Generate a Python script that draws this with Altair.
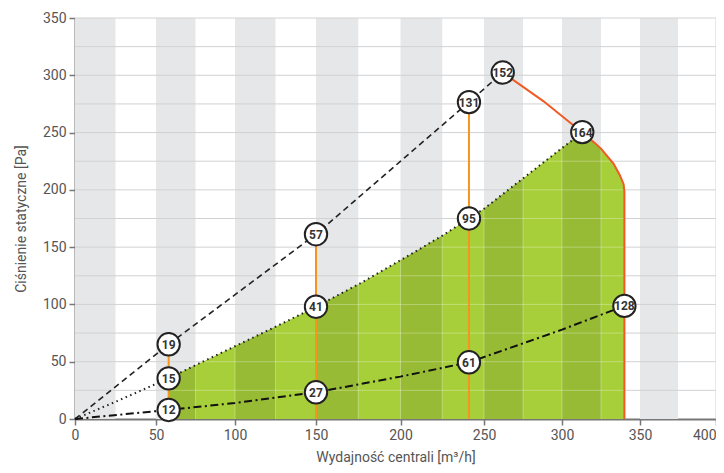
import altair as alt
import pandas as pd
import numpy as np

# ---- axis ticks / grid ----
x_ticks = [0, 50, 100, 150, 200, 250, 300, 350, 400]
# pixel offsets of the x ticks as they appear in the reference (its axis is slightly uneven)
x_tick_px = [0, 81, 160, 241, 325.5, 409, 487, 565, 641]
y_ticks = [0, 50, 100, 150, 200, 250, 300, 350]
grid_y = [25, 50, 75, 100, 125, 150, 175, 200, 225, 250, 275, 300, 325, 350]
band_starts = [0, 50, 100, 150, 200, 250, 300, 350]
band_w = 25
y_top = 350

# ---- curves ----
dash_x = [0, 58, 150, 241, 262]
dash_y = [0, 65.2, 161.3, 276.6, 302.4]

dot_x = [0, 25, 58, 75, 100, 125, 150, 175, 200, 225, 241, 250, 275, 300, 313]
dot_y = [0, 15, 35.5, 47, 63.5, 80.5, 98, 117.5, 138.5, 160, 175, 183.5, 210, 236.5, 250]

dd_x = [0, 58, 100, 150, 200, 241, 275, 300, 340]
dd_y = [0, 7.9, 14, 23.3, 37, 49.5, 66, 78, 98.7]

max_x = [262, 288, 313, 321, 325, 333, 337, 339.5, 340, 340]
max_y = [302.4, 277.5, 250, 241, 236, 223, 213, 205, 198, 0]

vert_x = [58, 150, 241]
vert_y = [65.2, 161.3, 276.6]

lab_x = [58, 58, 58, 150, 150, 150, 241, 241, 241, 262, 313, 340]
lab_y = [65.2, 35.5, 7.9, 161.3, 98, 23.3, 276.6, 175, 49.5, 302.4, 250.4, 98.7]
lab_t = ["19", "15", "12", "57", "41", "27", "131", "95", "61", "152", "164", "128"]

fill_start = 58
fill_end = 340

# ---- derived tables ----
bx = [x for x in dot_x if x >= fill_start] + max_x[3:-1]
by = [y for x, y in zip(dot_x, dot_y) if x >= fill_start] + max_y[3:-1]
boundary = pd.DataFrame({"x": bx, "y": by, "y0": 0})

dark_rows = []
for i, s in enumerate(band_starts):
    lo, hi = max(s, fill_start), min(s + band_w, fill_end)
    if lo >= hi:
        continue
    for x, y in zip(bx, by):
        if lo <= x <= hi:
            dark_rows.append({"band": i, "x": x, "y": y, "y0": 0})
dark = pd.DataFrame(dark_rows)

vlines = pd.DataFrame([{"x": x, "y": 0, "y2": y} for x, y in zip(bx, by)
                       if x % 25 == 0 and fill_start < x < fill_end])
asc_x = [x for x in dot_x if x >= fill_start]
asc_y = [y for x, y in zip(dot_x, dot_y) if x >= fill_start]
desc_x = max_x[2:-1][::-1]
desc_y = max_y[2:-1][::-1]
hrows = []
for h in grid_y:
    if h >= max(by):
        continue
    xl = fill_start if h <= asc_y[0] else float(np.interp(h, asc_y, asc_x))
    xr = fill_end if h <= desc_y[0] else float(np.interp(h, desc_y, desc_x))
    hrows.append({"x": xl, "x2": xr, "y": h})
hlines = pd.DataFrame(hrows)

bands = pd.DataFrame({"x": band_starts, "x2": [s + band_w for s in band_starts],
                      "y": 0, "y2": y_top})
grid = pd.DataFrame({"y": grid_y})
rightline = pd.DataFrame({"x": [x_ticks[-1]], "y": [0], "y2": [y_top]})

dash_df = pd.DataFrame({"x": dash_x, "y": dash_y})
dot_df = pd.DataFrame({"x": dot_x, "y": dot_y})
dd_df = pd.DataFrame({"x": dd_x, "y": dd_y})
max_df = pd.DataFrame({"x": max_x, "y": max_y, "i": range(len(max_x))})
vert_df = pd.DataFrame({"x": vert_x, "y": 0, "y2": vert_y})
lab_df = pd.DataFrame({"x": lab_x, "y": lab_y, "t": lab_t})

# ---- scales / axes ----
FONT = "Roboto"
xs = alt.Scale(domain=x_ticks, range=x_tick_px, nice=False, zero=False)
ys = alt.Scale(domain=[0, 350], nice=False)
x_axis = alt.Axis(values=x_ticks, title="Wydajność centrali [m³/h]", grid=False,
                  tickSize=6, tickColor="#777", tickWidth=1.5,
                  domainColor="#777", domainWidth=2, labelFlush=False,
                  labelAlign={"condition": {"test": "datum.value >= 400", "value": "right"},
                              "value": "center"},
                  labelFont=FONT, labelFontSize=14, labelColor="#555", labelPadding=3,
                  titleFont=FONT, titleFontSize=14, titleFontWeight="normal",
                  titleColor="#555", titlePadding=8)
y_axis = alt.Axis(values=y_ticks, title="Ciśnienie statyczne [Pa]", grid=False,
                  tickSize=6, tickColor="#777", tickWidth=1.5,
                  domainColor="#777", domainWidth=2,
                  labelFont=FONT, labelFontSize=14, labelColor="#555", labelPadding=3,
                  titleFont=FONT, titleFontSize=14, titleFontWeight="normal",
                  titleColor="#555", titlePadding=14)


def X(f="x"):
    return alt.X(f"{f}:Q", scale=xs, axis=x_axis)


def Y(f="y"):
    return alt.Y(f"{f}:Q", scale=ys, axis=y_axis)


band_layer = alt.Chart(bands).mark_rect(color="#e6e7e9").encode(
    x=X(), x2="x2:Q", y=Y(), y2="y2:Q")
grid_layer = alt.Chart(grid).mark_rule(color="#d2d2d2", strokeWidth=1).encode(y=Y())
right_layer = alt.Chart(rightline).mark_rule(color="#d2d2d2", strokeWidth=1).encode(
    x=X(), y=Y(), y2="y2:Q")

light_area = alt.Chart(boundary).mark_area(color="#a7cf3a", opacity=1).encode(
    x=X(), y=Y(), y2="y0:Q")
dark_area = alt.Chart(dark).mark_area(color="#97bb34", opacity=1).encode(
    x=X(), y=Y(), y2="y0:Q", detail="band:N")
vgrid = alt.Chart(vlines).mark_rule(color="white", opacity=0.3, strokeWidth=1).encode(
    x=X(), y=Y(), y2="y2:Q")
hgrid = alt.Chart(hlines).mark_rule(color="white", opacity=0.3, strokeWidth=1).encode(
    x=X(), x2="x2:Q", y=Y())

vert_layer = alt.Chart(vert_df).mark_rule(color="#f7941d", strokeWidth=2).encode(
    x=X(), y=Y(), y2="y2:Q")
max_layer = alt.Chart(max_df).mark_line(color="#f15a24", strokeWidth=2).encode(
    x=X(), y=Y(), order="i:Q")

dash_layer = alt.Chart(dash_df).mark_line(color="#222", strokeWidth=1.6,
                                          strokeDash=[6, 4]).encode(x=X(), y=Y())
dot_layer = alt.Chart(dot_df).mark_line(color="#222", strokeWidth=2,
                                        strokeDash=[1.5, 3.5]).encode(x=X(), y=Y())
dd_layer = alt.Chart(dd_df).mark_line(color="#111", strokeWidth=2,
                                      strokeDash=[8, 3.5, 2, 3.5]).encode(x=X(), y=Y())

circ_layer = alt.Chart(lab_df).mark_circle(size=500, fill="white", stroke="#222",
                                           strokeWidth=2, opacity=1).encode(x=X(), y=Y())
text_layer = alt.Chart(lab_df).mark_text(font=FONT, fontWeight="bold", fontSize=12,
                                         color="#333", align="center",
                                         baseline="middle", dy=0.5).encode(
    x=X(), y=Y(), text="t:N")

chart = alt.layer(
    band_layer, grid_layer, right_layer, light_area, dark_area, vgrid, hgrid,
    vert_layer, max_layer, dash_layer, dot_layer, dd_layer, circ_layer, text_layer
).properties(
    width=641, height=401,
    autosize=alt.AutoSizeParams(type="none"),
    padding={"left": 67, "top": 10, "right": 0, "bottom": 46},
).configure_view(stroke=None)

chart.save("out.html", embed_options={"renderer": "svg", "actions": False})
